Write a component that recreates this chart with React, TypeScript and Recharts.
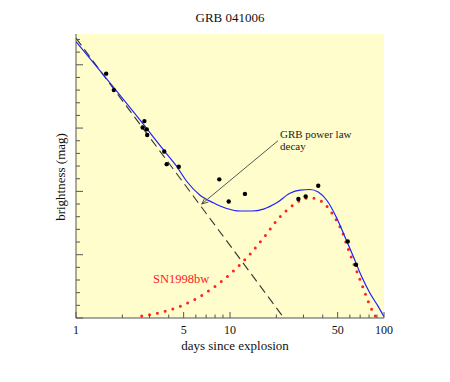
import React from "react";
import {
  ComposedChart,
  Line,
  Scatter,
  XAxis,
  YAxis,
  CartesianGrid,
  ReferenceLine,
  ReferenceDot,
} from "recharts";

// observed afterglow photometry (days, mag)
const observed = [
  { day: 1.57, mag: 21.14 },
  { day: 1.76, mag: 21.4 },
  { day: 2.71, mag: 21.99 },
  { day: 2.78, mag: 21.89 },
  { day: 2.88, mag: 22.02 },
  { day: 2.9, mag: 22.11 },
  { day: 3.74, mag: 22.37 },
  { day: 3.88, mag: 22.57 },
  { day: 4.65, mag: 22.61 },
  { day: 8.52, mag: 22.81 },
  { day: 9.81, mag: 23.16 },
  { day: 12.5, mag: 23.04 },
  { day: 27.8, mag: 23.12 },
  { day: 31.0, mag: 23.08 },
  { day: 37.4, mag: 22.91 },
  { day: 58.1, mag: 23.79 },
  { day: 65.8, mag: 24.16 },
];

// total model (power law + supernova)
const fitCurve = [
  { day: 1, mag: 20.635 },
  { day: 2.8, mag: 21.97 },
  { day: 3.8, mag: 22.38 },
  { day: 4.46, mag: 22.59 },
  { day: 5.23, mag: 22.84 },
  { day: 6.39, mag: 23.06 },
  { day: 7.79, mag: 23.18 },
  { day: 9.52, mag: 23.27 },
  { day: 11.6, mag: 23.31 },
  { day: 13.8, mag: 23.31 },
  { day: 16.5, mag: 23.28 },
  { day: 20.1, mag: 23.18 },
  { day: 24.5, mag: 23.03 },
  { day: 28.5, mag: 22.98 },
  { day: 33.1, mag: 22.97 },
  { day: 37.4, mag: 23.01 },
  { day: 42.5, mag: 23.14 },
  { day: 49.3, mag: 23.42 },
  { day: 55.8, mag: 23.72 },
  { day: 63.2, mag: 24.03 },
  { day: 71.7, mag: 24.35 },
  { day: 81.1, mag: 24.61 },
  { day: 91.8, mag: 24.82 },
  { day: 100, mag: 24.98 },
];

const powerLaw = [
  { day: 1, mag: 20.58 },
  { day: 22.4, mag: 25.0 },
];

const sn1998bw = [
  { day: 2.67, mag: 24.97 },
  { day: 3.98, mag: 24.88 },
  { day: 5.67, mag: 24.73 },
  { day: 7.8, mag: 24.52 },
  { day: 10.4, mag: 24.27 },
  { day: 13.5, mag: 23.99 },
  { day: 17.05, mag: 23.69 },
  { day: 19.8, mag: 23.48 },
  { day: 23.55, mag: 23.29 },
  { day: 28.8, mag: 23.14 },
  { day: 32.6, mag: 23.1 },
  { day: 36.9, mag: 23.12 },
  { day: 41.2, mag: 23.2 },
  { day: 44.6, mag: 23.3 },
  { day: 47.8, mag: 23.41 },
  { day: 53.4, mag: 23.63 },
  { day: 57.8, mag: 23.87 },
  { day: 62.6, mag: 24.1 },
  { day: 68.5, mag: 24.34 },
  { day: 74.9, mag: 24.59 },
  { day: 81.5, mag: 24.82 },
  { day: 86.1, mag: 24.93 },
  { day: 89, mag: 25.0 },
];

const xTicks = [1, 2, 3, 4, 5, 6, 7, 8, 9, 10, 20, 30, 40, 50, 60, 70, 80, 90, 100];
const xLabels = [1, 5, 10, 50, 100];
const yTicks = [
  25, 24.8, 24.6, 24.4, 24.2, 24, 23.8, 23.6, 23.4, 23.2, 23, 22.8, 22.6, 22.4,
  22.2, 22, 21.8, 21.6, 21.4, 21.2, 21, 20.8, 20.6,
];
const yDomain = [20.514, 25];

const serif = "'Liberation Serif', 'DejaVu Serif', serif";
const axisColor = "#555";

const isMajorY = (v: number) => Math.abs(v - Math.round(v)) < 1e-6;

const BottomTick = (props: any) => {
  const { x, y, payload } = props;
  const major = xLabels.includes(payload.value);
  return (
    <g>
      <line x1={x} x2={x} y1={y} y2={y - (major ? 6 : 3.5)} stroke={axisColor} />
      {major && (
        <text x={x} y={y + 15.5} textAnchor="middle" fontSize={12} fontFamily={serif} fill="#111">
          {payload.value}
        </text>
      )}
    </g>
  );
};

const TopTick = (props: any) => {
  const { x, y, payload } = props;
  const major = xLabels.includes(payload.value);
  return <line x1={x} x2={x} y1={y} y2={y + (major ? 6 : 3.5)} stroke={axisColor} />;
};

const LeftTick = (props: any) => {
  const { x, y, payload } = props;
  return <line x1={x} x2={x + (isMajorY(payload.value) ? 7 : 4)} y1={y} y2={y} stroke={axisColor} />;
};

const RightTick = (props: any) => {
  const { x, y, payload } = props;
  return <line x1={x} x2={x - (isMajorY(payload.value) ? 7 : 4)} y1={y} y2={y} stroke={axisColor} />;
};

const Arrow = (props: any) => {
  const { x1, y1, x2, y2 } = props;
  const ang = Math.atan2(y2 - y1, x2 - x1);
  const len = 7;
  const a1 = ang + Math.PI - 0.4;
  const a2 = ang + Math.PI + 0.4;
  return (
    <g>
      <line x1={x1} y1={y1} x2={x2} y2={y2} stroke="#555" strokeWidth={1} />
      <line x1={x2} y1={y2} x2={x2 + len * Math.cos(a1)} y2={y2 + len * Math.sin(a1)} stroke="#555" />
      <line x1={x2} y1={y2} x2={x2 + len * Math.cos(a2)} y2={y2 + len * Math.sin(a2)} stroke="#555" />
      <text x={x1 + 2} y={y1 - 3} fontSize={11} fontFamily={serif} fill="#222">
        GRB power law
      </text>
      <text x={x1 + 2} y={y1 + 9} fontSize={11} fontFamily={serif} fill="#222">
        decay
      </text>
    </g>
  );
};

const SnLabel = (props: any) => (
  <text x={props.cx} y={props.cy} fontSize={12.5} fontFamily={serif} fill="#ff2020">
    SN1998bw
  </text>
);

export default function App() {
  return (
    <div style={{ position: "absolute", left: 0, top: 0, width: 450, height: 382, background: "#fff" }}>
      <div
        style={{
          position: "absolute",
          left: 230,
          top: 10.5,
          transform: "translateX(-50%)",
          fontFamily: serif,
          fontSize: 13,
          lineHeight: "13px",
          whiteSpace: "nowrap",
          color: "#111",
        }}
      >
        GRB 041006
      </div>
      <ComposedChart width={450} height={382} margin={{ top: 34, right: 66, bottom: 0, left: 0 }}>
        <CartesianGrid horizontal={false} vertical={false} fill="#FFFDCB" />
        <XAxis
          xAxisId="b"
          dataKey="day"
          type="number"
          scale="log"
          domain={[1, 100]}
          allowDataOverflow
          ticks={xTicks}
          interval={0}
          height={64}
          tickSize={0}
          tickMargin={0}
          tickLine={false}
          tick={<BottomTick />}
          axisLine={{ stroke: axisColor }}
        />
        <XAxis
          xAxisId="t"
          orientation="top"
          dataKey="day"
          type="number"
          scale="log"
          domain={[1, 100]}
          allowDataOverflow
          ticks={xTicks}
          interval={0}
          height={0}
          tickSize={0}
          tickMargin={0}
          tickLine={false}
          tick={<TopTick />}
          axisLine={{ stroke: axisColor }}
        />
        <YAxis
          yAxisId="l"
          type="number"
          domain={yDomain}
          reversed
          allowDataOverflow
          ticks={yTicks}
          interval={0}
          width={76}
          tickSize={0}
          tickMargin={0}
          tickLine={false}
          tick={<LeftTick />}
          axisLine={{ stroke: axisColor }}
        />
        <YAxis
          yAxisId="r"
          orientation="right"
          type="number"
          domain={yDomain}
          reversed
          allowDataOverflow
          ticks={yTicks}
          interval={0}
          width={0}
          tickSize={0}
          tickMargin={0}
          tickLine={false}
          tick={<RightTick />}
          axisLine={{ stroke: axisColor }}
        />
        <Line
          xAxisId="b"
          yAxisId="l"
          data={powerLaw}
          dataKey="mag"
          type="linear"
          stroke="#333"
          strokeWidth={1.1}
          strokeDasharray="9 5"
          dot={false}
          isAnimationActive={false}
        />
        <Line
          xAxisId="b"
          yAxisId="l"
          data={sn1998bw}
          dataKey="mag"
          type="monotone"
          stroke="#ff2424"
          strokeWidth={3}
          strokeLinecap="round"
          strokeDasharray="0 8"
          dot={false}
          isAnimationActive={false}
        />
        <Line
          xAxisId="b"
          yAxisId="l"
          data={fitCurve}
          dataKey="mag"
          type="monotone"
          stroke="#1f1fff"
          strokeWidth={1.2}
          dot={false}
          isAnimationActive={false}
        />
        <Scatter
          xAxisId="b"
          yAxisId="l"
          data={observed}
          dataKey="mag"
          isAnimationActive={false}
          shape={(p: any) => <circle cx={p.cx} cy={p.cy} r={2.2} fill="#000" />}
        />
        <ReferenceLine
          xAxisId="b"
          yAxisId="l"
          segment={[
            { x: 20.5, y: 22.2 },
            { x: 6.55, y: 23.2 },
          ]}
          shape={(p: any) => <Arrow {...p} />}
        />
        <ReferenceDot xAxisId="b" yAxisId="l" x={3.16} y={24.45} r={0} shape={(p: any) => <SnLabel {...p} />} />
      </ComposedChart>
      <div
        style={{
          position: "absolute",
          left: 235,
          top: 339,
          transform: "translateX(-50%)",
          fontFamily: serif,
          fontSize: 13,
          lineHeight: "13px",
          whiteSpace: "nowrap",
          color: "#111",
        }}
      >
        days since explosion
      </div>
      <div
        style={{
          position: "absolute",
          left: 60,
          top: 177,
          transform: "translate(-50%, -50%) rotate(-90deg)",
          fontFamily: serif,
          fontSize: 13,
          lineHeight: "13px",
          whiteSpace: "nowrap",
          color: "#111",
        }}
      >
        brightness (mag)
      </div>
    </div>
  );
}
